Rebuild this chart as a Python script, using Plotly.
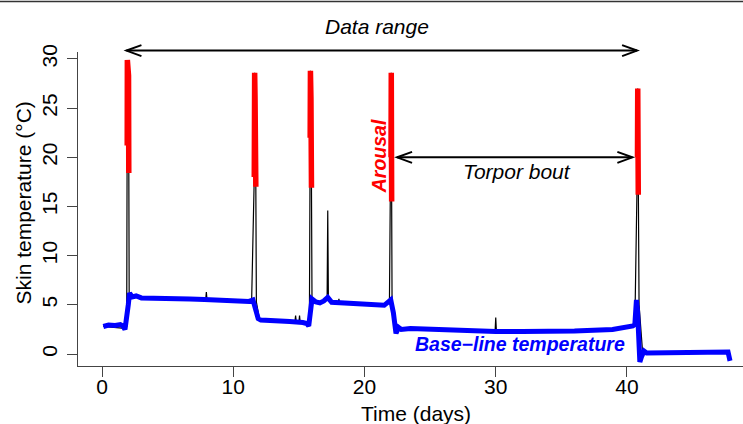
import plotly.graph_objects as go

# ---------------- data ----------------
# base-line (blue) skin temperature
base_day = [0.1, 0.5, 1.0, 1.4, 1.6, 1.75, 2.0, 2.1, 2.3, 2.6, 3.0, 4.1, 6.7, 7.8, 9.2,
            11.2, 11.5, 11.7, 11.9, 12.1, 13.5, 14.3, 15.3, 15.6, 15.75, 16.0, 16.3, 16.6,
            16.9, 17.2, 17.5, 18.3, 19.5, 21.5, 21.8, 22.0, 22.2, 22.4, 22.6, 22.8, 23.5,
            24.5, 26.2, 28.0, 30.0, 32.0, 34.0, 36.0, 38.9, 40.0, 40.45, 40.6, 40.72, 40.8,
            40.9, 40.98, 41.1, 41.3, 41.5, 42.5, 44.0, 46.0, 47.5, 47.7, 47.85]
base_temp = [2.8, 2.95, 2.9, 3.0, 2.85, 2.5, 5.0, 6.2, 5.8, 5.9, 5.7, 5.7, 5.6, 5.55, 5.45,
             5.35, 5.5, 4.6, 3.6, 3.45, 3.4, 3.3, 3.2, 3.1, 2.85, 5.6, 5.3, 5.2,
             5.4, 5.75, 5.25, 5.15, 5.1, 4.95, 5.2, 5.5, 4.2, 2.1, 2.7, 2.5, 2.6,
             2.55, 2.4, 2.3, 2.3, 2.3, 2.3, 2.35, 2.5, 2.7, 2.85, 3.0, 5.5, 4.5,
             1.0, -0.8, -0.3, 0.3, 0.1, 0.1, 0.15, 0.1, 0.1, 0.2, -0.7]

# raw (black) skin temperature
raw_day = [0.1, 1.7, 1.88, 1.93, 1.96, 2.02, 2.04, 2.07, 2.3, 4.1,
           6.7, 7.9, 7.95, 8.0, 9.2, 11.2, 11.4, 11.6, 11.63, 11.66,
           11.72, 11.76, 12.0, 13.5, 14.3, 14.7, 14.75, 14.8, 15.0, 15.05,
           15.1, 15.3, 15.8, 15.86, 15.88, 15.92, 15.96, 16.0, 16.3, 16.6,
           16.9, 17.15, 17.2, 17.25, 17.5, 18.0, 18.05, 18.1, 19.5, 21.5,
           21.9, 22.02, 22.04, 22.07, 22.1, 22.4, 22.6, 22.8, 23.5, 24.5,
           26.2, 28.0, 29.95, 30.0, 30.05, 32.0, 34.0, 36.0, 38.9, 40.0,
           40.45, 40.6, 40.8, 40.82, 40.86, 40.88, 40.92, 41.2, 41.5, 44.0,
           47.5]
raw_temp = [2.8, 2.6, 2.8, 29.9, 25.0, 28.3, 18.4, 6.0, 5.8, 5.7,
            5.6, 5.5, 6.3, 5.5, 5.45, 5.35, 5.4, 18.0, 28.6, 26.0,
            17.0, 5.3, 3.5, 3.4, 3.3, 3.3, 3.9, 3.3, 3.2, 3.9,
            3.2, 3.2, 2.9, 22.0, 28.8, 26.0, 16.9, 5.6, 5.3, 5.2,
            5.4, 5.6, 14.6, 5.5, 5.25, 5.2, 5.6, 5.2, 5.1, 4.95,
            5.4, 20.0, 28.6, 15.5, 5.4, 2.2, 2.7, 2.5, 2.6, 2.55,
            2.4, 2.3, 2.3, 3.7, 2.3, 2.3, 2.3, 2.35, 2.5, 2.7,
            2.85, 3.0, 20.0, 27.0, 16.2, 8.2, 5.0, 0.0, 0.1, 0.15,
            0.1]

# arousal (red) segments
arousal_day = [1.92, 1.93, 1.96, 2.02, 2.04, None,
               11.6, 11.63, 11.66, 11.72, None,
               15.86, 15.88, 15.92, 15.96, None,
               22.02, 22.04, 22.07, None,
               40.8, 40.82, 40.86]
arousal_temp = [21.2, 29.9, 25.0, 28.3, 18.4, None,
                18.0, 28.6, 26.0, 17.0, None,
                22.0, 28.8, 26.0, 16.9, None,
                20.0, 28.6, 15.5, None,
                20.0, 27.0, 16.2]

x_ticks = [0, 10, 20, 30, 40]
y_ticks = [0, 5, 10, 15, 20, 25, 30]

# annotation positions (days / °C)
data_range_days = [1.86, 40.77]
data_range_temp = 30.85
torpor_days = [22.48, 40.41]
torpor_temp = 20.0

# ---------------- layout / style ----------------
W, H = 743, 424
ML, MR, MT, MB = 78, 0, 52, 58
X_RANGE = [-1.83, 48.84]
Y_RANGE = [-1.22, 30.71]
PW, PH = W - ML - MR, H - MT - MB
FONT = "Liberation Sans, Arial, Helvetica, sans-serif"
AX_COL = "#444444"

HEAD_LEN_PX, HEAD_HALF_PX = 15, 5.5
head_dx = HEAD_LEN_PX * (X_RANGE[1] - X_RANGE[0]) / PW
head_dy_data = HEAD_HALF_PX * (Y_RANGE[1] - Y_RANGE[0]) / PH
head_dy_paper = HEAD_HALF_PX / PH


def to_paper_y(v):
    return (v - Y_RANGE[0]) / (Y_RANGE[1] - Y_RANGE[0])


def double_arrow(x0, x1, y, dy, yref):
    ln = dict(color="black", width=2)
    return [
        dict(type="line", xref="x", yref=yref, x0=x0, x1=x1, y0=y, y1=y, line=ln),
        dict(type="path", xref="x", yref=yref, line=ln,
             path=f"M {x0 + head_dx},{y + dy} L {x0},{y} L {x0 + head_dx},{y - dy}"),
        dict(type="path", xref="x", yref=yref, line=ln,
             path=f"M {x1 - head_dx},{y + dy} L {x1},{y} L {x1 - head_dx},{y - dy}"),
    ]


fig = go.Figure()
fig.add_trace(go.Scatter(x=raw_day, y=raw_temp, mode="lines",
                         line=dict(color="black", width=1.2), hoverinfo="skip"))
fig.add_trace(go.Scatter(x=base_day, y=base_temp, mode="lines",
                         line=dict(color="#0000FF", width=5), hoverinfo="skip"))
fig.add_trace(go.Scatter(x=arousal_day, y=arousal_temp, mode="lines",
                         line=dict(color="#FF0000", width=5.5), hoverinfo="skip",
                         connectgaps=False))

shapes = []
shapes += double_arrow(data_range_days[0], data_range_days[1],
                       to_paper_y(data_range_temp), head_dy_paper, "paper")
shapes += double_arrow(torpor_days[0], torpor_days[1], torpor_temp, head_dy_data, "y")
# top border line of the page
shapes.append(dict(type="line", xref="paper", yref="paper", x0=-0.2, x1=1.1,
                   y0=(H - MB - 1.5) / PH, y1=(H - MB - 1.5) / PH,
                   line=dict(color="#333333", width=1.5)))

annotations = [
    dict(text="Data range", xref="x", yref="paper",
         x=(data_range_days[0] + data_range_days[1]) / 2 - 0.35,
         y=(H - MB - 27) / PH, showarrow=False, xanchor="center", yanchor="middle",
         font=dict(family=FONT, size=21, color="black", style="italic")),
    dict(text="Torpor bout", xref="x", yref="y", x=31.6, y=18.6, showarrow=False,
         xanchor="center", yanchor="middle",
         font=dict(family=FONT, size=21, color="black", style="italic")),
    dict(text="Arousal", xref="x", yref="y", x=21.1, y=20.1, showarrow=False,
         textangle=-90, xanchor="center", yanchor="middle",
         font=dict(family=FONT, size=19.5, color="#FF0000", style="italic", weight="bold")),
    dict(text="Base\u2212line temperature", xref="x", yref="y", x=31.82, y=1.0,
         showarrow=False, xanchor="center", yanchor="middle",
         font=dict(family=FONT, size=19.5, color="#0000FF", style="italic", weight="bold")),
    dict(text="Skin temperature (°C)", xref="paper", yref="paper",
         x=(23 - ML) / PW, y=(H - MB - 203.5) / PH, showarrow=False, textangle=-90,
         xanchor="center", yanchor="middle",
         font=dict(family=FONT, size=21, color="black")),
    dict(text="Time (days)", xref="paper", yref="paper",
         x=(416 - ML) / PW, y=(H - MB - 413.5) / PH, showarrow=False,
         xanchor="center", yanchor="middle",
         font=dict(family=FONT, size=21, color="black")),
]

fig.update_layout(
    width=W, height=H,
    margin=dict(l=ML, r=MR, t=MT, b=MB, pad=0),
    paper_bgcolor="white", plot_bgcolor="white",
    showlegend=False,
    shapes=shapes, annotations=annotations,
    xaxis=dict(range=X_RANGE, tickvals=x_ticks, ticktext=[str(v) for v in x_ticks],
               showgrid=False, zeroline=False, showline=True, linecolor=AX_COL,
               linewidth=1.2, ticks="outside", ticklen=10, tickcolor=AX_COL,
               tickwidth=1.2, ticklabelstandoff=-8,
               tickfont=dict(family=FONT, size=21, color="black")),
    yaxis=dict(range=Y_RANGE, tickvals=y_ticks, ticktext=[str(v) for v in y_ticks],
               showgrid=False, zeroline=False, showline=True, linecolor=AX_COL,
               linewidth=1.2, ticks="outside", ticklen=10, tickcolor=AX_COL,
               tickwidth=1.2, tickangle=-90, ticklabelstandoff=2,
               tickfont=dict(family=FONT, size=21, color="black")),
)

fig.write_html(
    "out.html",
    config={"displayModeBar": False},
    post_script="document.body.style.margin='0';document.body.style.overflow='hidden';",
)
